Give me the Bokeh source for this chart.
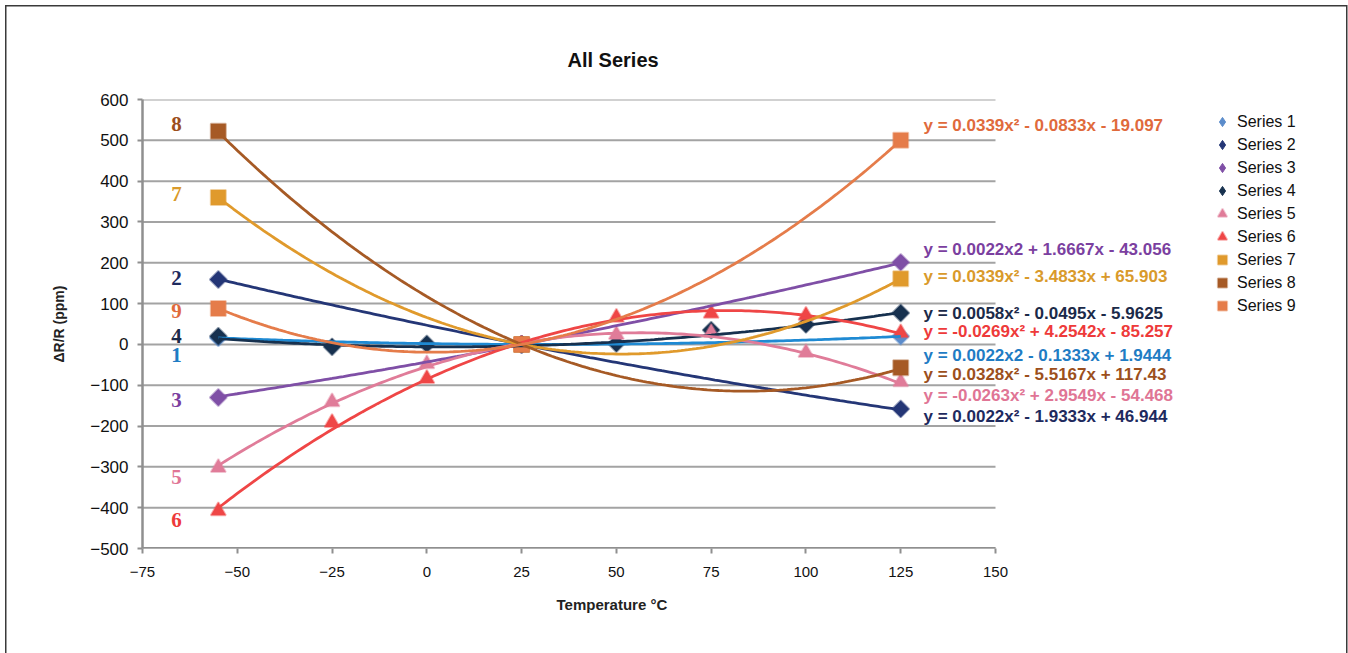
import numpy as np
from bokeh.plotting import figure
from bokeh.models import Range1d, FixedTicker, Label, Legend, LegendItem, Title
from bokeh.embed import file_html
from bokeh.resources import INLINE

# ---------------- data ----------------
temps_all = [-55, -25, 0, 25, 50, 75, 100, 125]
temps_end = [-55, 25, 125]

series_names = ["Series 1", "Series 2", "Series 3", "Series 4", "Series 5",
                "Series 6", "Series 7", "Series 8", "Series 9"]

s1 = [16, 0, 20]
s2 = [159, 0, -158]
s3 = [-130, 0, 201]
s4 = [20, -6, 1, 0, 2, 35, 49, 77]
s5 = [-302, -141, -48, 0, 24, 29, -20, -92]
s6 = [-408, -192, -84, 0, 66, 76, 71, 28]
s7 = [360, 0, 161]
s8 = [522, 0, -57]
s9 = [88, 0, 500]

series_x = [temps_end, temps_end, temps_end, temps_all, temps_all,
            temps_all, temps_end, temps_end, temps_end]
series_y = [s1, s2, s3, s4, s5, s6, s7, s8, s9]

# polynomial trendline coefficients (as printed on the chart)
coef_a = [0.0022, 0.0022, 0.0022, 0.0058, -0.0263, -0.0269, 0.0339, 0.0328, 0.0339]
coef_b = [-0.1333, -1.9333, 1.6667, -0.0495, 2.9549, 4.2542, -3.4833, -5.5167, -0.0833]
coef_c = [1.9444, 46.944, -43.056, -5.9625, -54.468, -85.257, 65.903, 117.43, -19.097]

equations = [
    "y = 0.0022x2 - 0.1333x + 1.9444",
    "y = 0.0022x\u00b2 - 1.9333x + 46.944",
    "y = 0.0022x2 + 1.6667x - 43.056",
    "y = 0.0058x\u00b2 - 0.0495x - 5.9625",
    "y = -0.0263x\u00b2 + 2.9549x - 54.468",
    "y = -0.0269x\u00b2 + 4.2542x - 85.257",
    "y = 0.0339x\u00b2 - 3.4833x + 65.903",
    "y = 0.0328x\u00b2 - 5.5167x + 117.43",
    "y = 0.0339x\u00b2 - 0.0833x - 19.097",
]
tags = ["1", "2", "3", "4", "5", "6", "7", "8", "9"]

x_ticks = [-75, -50, -25, 0, 25, 50, 75, 100, 125, 150]
x_tick_labels = ["\u221275", "\u221250", "\u221225", "0", "25", "50", "75", "100", "125", "150"]
y_ticks = [-500, -400, -300, -200, -100, 0, 100, 200, 300, 400, 500, 600]
y_tick_labels = ["\u2212500", "\u2212400", "\u2212300", "\u2212200", "\u2212100", "0",
                 "100", "200", "300", "400", "500", "600"]

# ---------------- styles / positions ----------------
marker_colors = ["#5b8ccb", "#243676", "#7f4fa6", "#17314f", "#e07c99",
                 "#ef4646", "#e09a2c", "#a65a25", "#e57c4a"]
trend_colors = ["#1f8ad3", "#243676", "#7f4fa6", "#17314f", "#e07c99",
                "#ef4646", "#e09a2c", "#a65a25", "#e57c4a"]
eq_colors = ["#1f7cc4", "#1e2a5e", "#7b3fa0", "#1b2a49", "#e07595",
             "#ee3a3a", "#d99a2b", "#9c4f1c", "#e06a3c"]
markers = ["square", "square", "square", "square", "triangle",
           "triangle", "square", "square", "square"]
legend_markers = ["diamond", "diamond", "diamond", "diamond", "triangle",
                  "triangle", "square", "square", "square"]
marker_angle = [np.pi / 4] * 4 + [0.0] * 5
marker_size = [12, 12, 12, 12, 15, 15, 15, 15, 15]
eq_pos_y = [-27, -176, 233, 76, -125, 32, 167, -74, 537]
eq_pos_x = 131
tag_pos_y = [-27, 162, -135, 20, -326, -429, 368, 539, 81]
tag_pos_x = -66

W, H = 1348, 653
left_px, axis_end_px, frame_right_px = 142, 995, 1344
top_px, bottom_px = 99, 548
ppu = (axis_end_px - left_px) / (x_ticks[-1] - x_ticks[0])
x_end = x_ticks[0] + (frame_right_px - left_px) / ppu

p = figure(width=W, height=H, output_backend="svg", toolbar_location=None,
           x_range=Range1d(x_ticks[0], x_end), y_range=Range1d(y_ticks[0], y_ticks[-1]),
           min_border_left=left_px, min_border_right=W - frame_right_px,
           min_border_top=top_px, min_border_bottom=H - bottom_px)
p.outline_line_color = None
p.background_fill_color = "white"
p.border_fill_alpha = 0
p.styles = {
    "background": ("linear-gradient(#3a3a3a,#3a3a3a) 5px 5px / 1.5px 100% no-repeat, "
                   "linear-gradient(#3a3a3a,#3a3a3a) 5px 5px / calc(100% - 7px) 1.5px no-repeat, "
                   "linear-gradient(#3a3a3a,#3a3a3a) right 1px top 5px / 1.5px 100% no-repeat, "
                   "white"),
}

p.xgrid.grid_line_color = None
p.ygrid.grid_line_color = None
# horizontal gridlines spanning the axis range only
p.segment(x0=[x_ticks[0]] * len(y_ticks), x1=[x_ticks[-1]] * len(y_ticks),
          y0=y_ticks, y1=y_ticks, line_color="#a3a3a3", line_width=2)
# x axis line (bounded to the tick range)
p.segment(x0=[x_ticks[0]], x1=[x_ticks[-1]], y0=[y_ticks[0]], y1=[y_ticks[0]],
          line_color="#8f8f8f", line_width=3)

for ax in (p.xaxis[0], p.yaxis[0]):
    ax.axis_line_color = "#8f8f8f"
    ax.axis_line_width = 2.5
    ax.major_tick_line_color = "#8f8f8f"
    ax.major_tick_line_width = 2
    ax.major_tick_out = 5
    ax.major_tick_in = 0
    ax.minor_tick_line_color = None
    ax.major_label_text_color = "#111111"
    ax.major_label_text_font = "Liberation Sans"
    ax.major_label_text_font_style = "normal"

p.xaxis.axis_line_color = None
p.xaxis.ticker = FixedTicker(ticks=x_ticks)
p.xaxis.major_label_overrides = {t: l for t, l in zip(x_ticks, x_tick_labels)}
p.xaxis.major_label_text_font_size = "15px"
p.xaxis.major_label_standoff = 13
p.yaxis.ticker = FixedTicker(ticks=y_ticks)
p.yaxis.major_label_overrides = {t: l for t, l in zip(y_ticks, y_tick_labels)}
p.yaxis.major_label_text_font_size = "17px"
p.yaxis.major_label_standoff = 9
p.yaxis.axis_label = "\u0394R/R (ppm)"
p.yaxis.axis_label_text_font = "Liberation Sans"
p.yaxis.axis_label_text_font_style = "bold"
p.yaxis.axis_label_text_font_size = "14px"
p.yaxis.axis_label_text_color = "#222222"
p.yaxis.axis_label_standoff = 20

p.title.text = "All Series"
p.title.align = "left"
p.title.offset = 567 - left_px
p.title.text_font = "Liberation Sans"
p.title.text_font_style = "bold"
p.title.text_font_size = "20px"
p.title.text_color = "#111111"
p.title.standoff = 58

p.add_layout(Title(text="Temperature \u00b0C", align="left", offset=556 - left_px,
                   text_font="Liberation Sans", text_font_style="bold",
                   text_font_size="15px", text_color="#222222", standoff=28), "below")

# legend swatches for the diamond series (small, hidden under the point markers)
legend_renderers = [None] * 9
for i in range(9):
    if legend_markers[i] == "diamond":
        legend_renderers[i] = p.scatter(series_x[i], series_y[i], marker="diamond", size=5,
                                        fill_color=marker_colors[i],
                                        line_color=marker_colors[i], line_width=1)

# markers
for i in range(9):
    r = p.scatter(series_x[i], series_y[i], marker=markers[i], size=marker_size[i],
                  angle=marker_angle[i],
                  fill_color=marker_colors[i], line_color=marker_colors[i],
                  line_alpha=0.45, line_width=2)
    if legend_renderers[i] is None:
        legend_renderers[i] = r

legend_items = [LegendItem(label=series_names[i], renderers=[legend_renderers[i]])
                for i in range(9)]

# trendlines
xt = np.linspace(temps_all[0], temps_all[-1], 181)
for i in range(9):
    yt = coef_a[i] * xt ** 2 + coef_b[i] * xt + coef_c[i]
    p.line(xt, yt, line_color=trend_colors[i], line_width=2.8)

# series tags on the left
for i in range(9):
    p.add_layout(Label(x=tag_pos_x, y=tag_pos_y[i], text=tags[i],
                       text_font="Liberation Serif", text_font_style="bold",
                       text_font_size="21px", text_color=eq_colors[i],
                       text_align="center", text_baseline="middle"))

# trendline equations on the right
for i in range(9):
    p.add_layout(Label(x=eq_pos_x, y=eq_pos_y[i], text=equations[i],
                       text_font="Liberation Sans", text_font_style="bold",
                       text_font_size="17px", text_color=eq_colors[i],
                       text_align="left", text_baseline="middle"))

legend = Legend(items=legend_items, location=(1209 - left_px, bottom_px - 317),
                orientation="vertical",
                border_line_color=None, background_fill_alpha=0,
                label_text_font="Liberation Sans", label_text_font_size="16px",
                label_text_color="#111111", glyph_width=26, glyph_height=23,
                label_height=20, spacing=0, padding=0, margin=0, label_standoff=2)
p.add_layout(legend, "center")

open("out.html", "w").write(file_html(p, INLINE))
